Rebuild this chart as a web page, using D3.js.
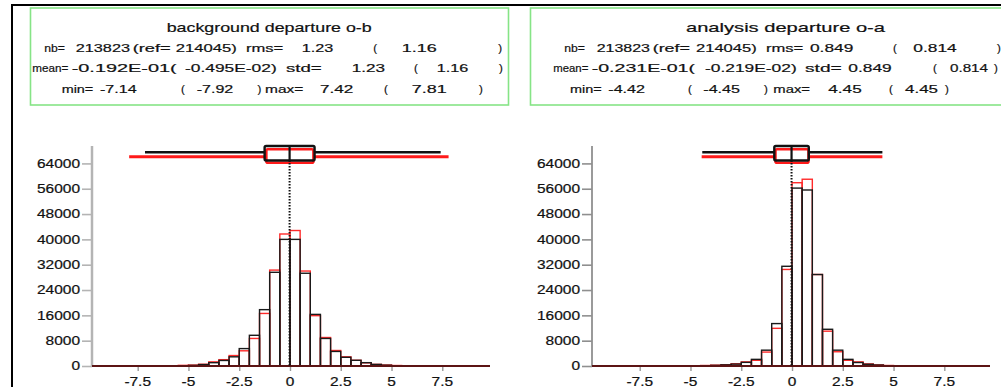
<!DOCTYPE html>
<html>
<head>
<meta charset="utf-8">
<script src="https://cdn.jsdelivr.net/npm/d3@7"></script>
<style>
  html, body { margin: 0; padding: 0; background: #fff; overflow: hidden; }
  svg { display: block; font-family: "Liberation Sans", Arial, Helvetica, sans-serif; }
</style>
</head>
<body>
<svg id="chart" width="1001" height="387"></svg>
<script>
// ---- Histogram data: lower bin edges (bin width 0.5) and counts ----
const binWidth = 0.5;

// background departure o-b
const obBins      = [-5.5, -5, -4.5, -4, -3.5, -3, -2.5, -2, -1.5, -1, -0.5, 0, 0.5, 1, 1.5, 2, 2.5, 3, 3.5, 4, 4.5, 5];
const obCounts    = [60, 200, 450, 1050, 1750, 2900, 5500, 9700, 17800, 29600, 40000, 40000, 29300, 16300, 8700, 4600, 2750, 1800, 1050, 500, 250, 80];
const obRefCounts = [200, 280, 550, 1300, 2000, 3300, 4800, 8700, 16600, 30300, 41700, 42800, 30000, 15900, 9000, 4900, 2900, 1800, 1000, 500, 300, 150];

// analysis departure o-a
const oaBins      = [-4.5, -4, -3.5, -3, -2.5, -2, -1.5, -1, -0.5, 0, 0.5, 1, 1.5, 2, 2.5, 3, 3.5, 4, 4.5];
const oaCounts    = [100, 200, 350, 600, 1150, 2100, 5000, 13400, 31500, 56200, 55600, 28900, 11600, 5000, 2100, 1100, 550, 300, 100];
const oaRefCounts = [150, 250, 400, 700, 1300, 1800, 4400, 11900, 30500, 57900, 59000, 28900, 11000, 4500, 1800, 1300, 650, 350, 150];

// ---- Summary statistics: [experiment, reference] ----
const obTitle = "background departure o-b";
const obNb   = [213823, 214045];
const obRms  = [1.23, 1.16];
const obMean = [-0.192E-01, -0.495E-02];
const obStd  = [1.23, 1.16];
const obMin  = [-7.14, -7.92];
const obMax  = [7.42, 7.81];

const oaTitle = "analysis departure o-a";
const oaNb   = [213823, 214045];
const oaRms  = [0.849, 0.814];
const oaMean = [-0.231E-01, -0.219E-02];
const oaStd  = [0.849, 0.814];
const oaMin  = [-4.42, -4.45];
const oaMax  = [4.45, 4.45];

// ---- Axis ticks ----
const yTicks = [0, 8000, 16000, 24000, 32000, 40000, 48000, 56000, 64000];
const xTicks = [-7.5, -5, -2.5, 0, 2.5, 5, 7.5];
const yMax = 69500;

// Fortran-style E format, e.g. -0.192E-01
function fortranE(v) {
  const a = Math.abs(v);
  let e = Math.floor(Math.log10(a)) + 1;
  let ms = (a / Math.pow(10, e)).toFixed(3);
  if (ms === "1.000") { e += 1; ms = (a / Math.pow(10, e)).toFixed(3); }
  const es = (e < 0 ? "-" : "+") + String(Math.abs(e)).padStart(2, "0");
  return (v < 0 ? "-" : "") + ms + "E" + es;
}

const svg = d3.select("#chart");
const ink = "#111";
const widen = 1.29;   // horizontal stretch of axis-label glyphs

// outer frame
svg.append("line").attr("x1", 11).attr("x2", 1001).attr("y1", 5).attr("y2", 5)
  .attr("stroke", "#000").attr("stroke-width", 2);
svg.append("line").attr("x1", 12).attr("x2", 12).attr("y1", 5).attr("y2", 387)
  .attr("stroke", "#000").attr("stroke-width", 2);

// ---- statistics header box ----
function drawHeader(cfg) {
  const g = svg.append("g");
  g.append("rect").attr("x", cfg.box[0]).attr("y", 8).attr("width", cfg.box[1]).attr("height", 97)
    .attr("fill", "none").attr("stroke", "#86e486").attr("stroke-width", 1.6);

  const s = cfg.stats;
  const lines = [
    ["nb=", String(s.nb[0]), "(ref=", s.nb[1] + ")", "rms=", String(s.rms[0]), "(", String(s.rms[1]), ")"],
    ["mean=", fortranE(s.mean[0]) + "(", fortranE(s.mean[1]) + ")", "std=", String(s.std[0]), "(", String(s.std[1]), ")"],
    ["min=", String(s.min[0]), "(", String(s.min[1]), ")", "max=", String(s.max[0]), "(", String(s.max[1]), ")"]
  ];
  const baselines = [51.5, 72, 92.5];

  g.append("text")
    .attr("x", cfg.title[0]).attr("y", 31.5)
    .attr("textLength", cfg.title[1] - cfg.title[0]).attr("lengthAdjust", "spacingAndGlyphs")
    .attr("font-size", 13).attr("fill", ink).attr("stroke", ink).attr("stroke-width", 0.2)
    .text(s.title);

  lines.forEach((tokens, li) => {
    tokens.forEach((t, ti) => {
      const span = cfg.spans[li][ti];
      const txt = g.append("text")
        .attr("x", span[0]).attr("y", baselines[li])
        .attr("font-size", 11.5).attr("fill", ink).attr("stroke", ink).attr("stroke-width", 0.2)
        .text(t);
      if (t.length > 1) txt.attr("textLength", span[1] - span[0]).attr("lengthAdjust", "spacingAndGlyphs");
    });
  });
}

// axis label drawn in a horizontally widened face
function wideLabel(g, str, px, py, anchor) {
  g.append("text")
    .attr("transform", `translate(${px},${py}) scale(${widen},1)`)
    .attr("text-anchor", anchor)
    .attr("font-size", 12).attr("fill", ink).attr("stroke", ink).attr("stroke-width", 0.2)
    .text(str);
}

// ---- histogram panel ----
function drawPanel(cfg) {
  const g = svg.append("g");
  const x = d3.scaleLinear().domain(cfg.xDomain).range(cfg.xRange);
  const y = d3.scaleLinear().domain([0, yMax]).range([366, 146]);
  const y0 = y(0);
  const ax = cfg.xRange[0];

  // y axis line, tick marks and labels
  g.append("line").attr("x1", ax).attr("x2", ax).attr("y1", y(yMax)).attr("y2", y0)
    .attr("stroke", cfg.axisColor).attr("stroke-width", cfg.axisWidth);
  const yAxis = g.append("g").attr("transform", `translate(${ax},0)`)
    .call(d3.axisLeft(y).tickValues(yTicks).tickFormat("").tickSize(10));
  yAxis.select(".domain").remove();
  yAxis.selectAll(".tick line").attr("stroke", cfg.axisColor).attr("stroke-width", 1.6);
  yTicks.forEach(v => wideLabel(g, d3.format("d")(v), ax - 12, y(v) + 4.3, "end"));

  // histograms: reference (red) below, experiment (black) on top
  const drawBars = (counts, color) => {
    g.append("g").selectAll("rect")
      .data(cfg.bins.map((b, i) => ({ b, c: counts[i] })).filter(d => d.c > 0))
      .join("rect")
      .attr("x", d => x(d.b))
      .attr("width", d => x(d.b + binWidth) - x(d.b))
      .attr("y", d => y(d.c))
      .attr("height", d => y0 - y(d.c))
      .attr("fill", "none")
      .attr("stroke", color)
      .attr("stroke-width", 1.4);
  };
  drawBars(cfg.refCounts, "#ff2a2a");
  drawBars(cfg.counts, "#1a1a1a");

  // x axis baseline, tick marks and labels
  g.append("line").attr("x1", ax).attr("x2", cfg.xRange[1]).attr("y1", y0).attr("y2", y0)
    .attr("stroke", "#5c1414").attr("stroke-width", 2);
  const xAxis = g.append("g").attr("transform", `translate(0,${y0 + 1})`)
    .call(d3.axisBottom(x).tickValues(xTicks).tickFormat("").tickSize(4));
  xAxis.select(".domain").remove();
  xAxis.selectAll(".tick line").attr("stroke", "#999").attr("stroke-width", 1.4);
  xTicks.forEach(v => wideLabel(g, String(v), x(v), 386, "middle"));

  // box plots: whiskers span min..max, box spans mean +/- std
  const s = cfg.stats;
  const wy = [152.3, 156.7];
  g.append("line").attr("x1", x(s.min[0])).attr("x2", x(s.max[0])).attr("y1", wy[0]).attr("y2", wy[0])
    .attr("stroke", ink).attr("stroke-width", 2.5);
  g.append("line").attr("x1", x(s.min[1])).attr("x2", x(s.max[1])).attr("y1", wy[1]).attr("y2", wy[1])
    .attr("stroke", "#ff1a1a").attr("stroke-width", 3);

  const bx0 = x(s.mean[0] - s.std[0]), bx1 = x(s.mean[0] + s.std[0]);
  const rx0 = x(s.mean[1] - s.std[1]), rx1 = x(s.mean[1] + s.std[1]);
  g.append("rect").attr("x", bx0).attr("y", 146).attr("width", bx1 - bx0).attr("height", 14.5)
    .attr("fill", "#fff");
  g.append("rect").attr("x", rx0).attr("y", 149.3).attr("width", rx1 - rx0).attr("height", 13.5)
    .attr("rx", 1.5).attr("fill", "#fff").attr("stroke", "#ff1a1a").attr("stroke-width", 2.6);
  g.append("rect").attr("x", bx0).attr("y", 146).attr("width", bx1 - bx0).attr("height", 14.5)
    .attr("rx", 1.5).attr("fill", "none").attr("stroke", ink).attr("stroke-width", 2.4);
  g.append("line").attr("x1", x(s.mean[0])).attr("x2", x(s.mean[0])).attr("y1", 146).attr("y2", 162)
    .attr("stroke", ink).attr("stroke-width", 2.2);
  g.append("line").attr("x1", x(s.mean[0])).attr("x2", x(s.mean[0])).attr("y1", 163).attr("y2", y0)
    .attr("stroke", ink).attr("stroke-width", 2).attr("stroke-dasharray", "1.6,1.4");
}

const obStats = { title: obTitle, nb: obNb, rms: obRms, mean: obMean, std: obStd, min: obMin, max: obMax };
const oaStats = { title: oaTitle, nb: oaNb, rms: oaRms, mean: oaMean, std: oaStd, min: oaMin, max: oaMax };

drawHeader({
  box: [30.5, 478], title: [166.7, 371.7], stats: obStats,
  spans: [
    [[44.3, 65], [75.7, 130], [132.7, 170.7], [175.7, 236.7], [246, 283.3], [301.7, 333.3], [373.3, 377], [401.7, 436.7], [498.3, 502]],
    [[32.3, 68.3], [71.7, 176.7], [185, 276.7], [286, 321.7], [351.7, 385], [414, 417], [436.7, 468.3], [499, 502]],
    [[61.7, 93.3], [100, 136.7], [181, 184], [196.7, 233.3], [257.5, 260.5], [265, 303.3], [320, 353.3], [384, 387], [411.7, 446.7], [479, 482]]
  ]
});
drawHeader({
  box: [530.5, 511], title: [686, 885], stats: oaStats,
  spans: [
    [[564.3, 585], [596.7, 650], [652.7, 690], [696, 756.7], [766, 803.3], [810, 853.3], [893, 896], [913.3, 956.7], [997, 1000]],
    [[553.3, 588.3], [591.7, 695], [705, 796.7], [805, 841.7], [848.3, 891.7], [933, 936], [950, 988], [994, 997]],
    [[570, 601.7], [608.3, 645], [688, 691], [703.3, 740], [764, 767], [773.3, 810], [828.3, 861.7], [889, 892], [905, 938], [945, 948]]
  ]
});

drawPanel({
  xDomain: [-9.75, 9.85], xRange: [92, 490], bins: obBins, counts: obCounts, refCounts: obRefCounts,
  stats: obStats, axisColor: "#b4b4b4", axisWidth: 2.5
});
drawPanel({
  xDomain: [-9.85, 9.75], xRange: [592, 990], bins: oaBins, counts: oaCounts, refCounts: oaRefCounts,
  stats: oaStats, axisColor: "#8f8f8f", axisWidth: 1.8
});
</script>
</body>
</html>
